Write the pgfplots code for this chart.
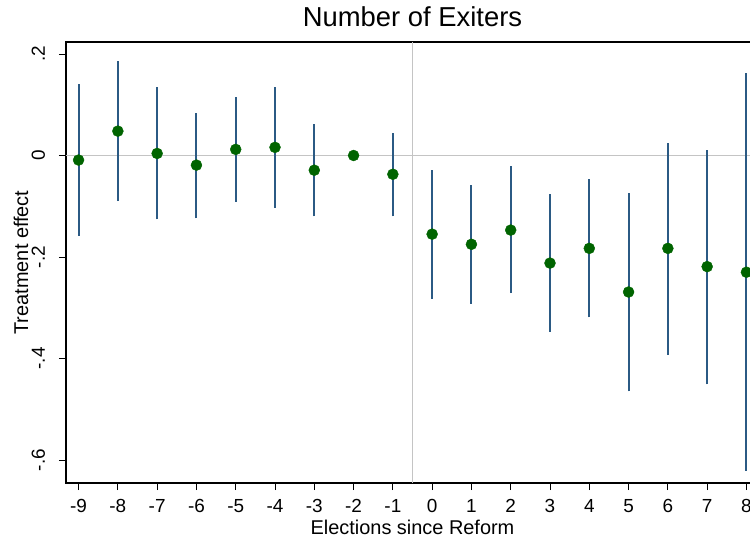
\documentclass[border=0pt]{standalone}
\usepackage{pgfplots}
\usepackage{pgfplotstable}
\pgfplotsset{compat=1.18}
\usepackage{fontspec}
\setmainfont{Liberation Sans}
\definecolor{cicol}{HTML}{2B5A84}
\definecolor{ptcol}{HTML}{006400}
\definecolor{refl}{HTML}{C4C4C4}

\pgfplotstableread{
x b
-9 -0.009
-8 0.048
-7 0.004
-6 -0.019
-5 0.012
-4 0.016
-3 -0.029
-2 0.000
-1 -0.037
0 -0.155
1 -0.175
2 -0.147
3 -0.212
4 -0.183
5 -0.269
6 -0.183
7 -0.219
8 -0.230
}\pts

\pgfplotstableread{
x lo hi
-9 -0.158 0.141
-8 -0.090 0.187
-7 -0.126 0.134
-6 -0.124 0.084
-5 -0.091 0.116
-4 -0.103 0.134
-3 -0.120 0.062
-1 -0.120 0.045
0 -0.282 -0.028
1 -0.292 -0.059
2 -0.271 -0.021
3 -0.347 -0.076
4 -0.319 -0.046
5 -0.465 -0.074
6 -0.393 0.025
7 -0.451 0.011
8 -0.621 0.162
}\cis

\begin{document}
\begin{tikzpicture}
\begin{axis}[
  scale only axis,
  width=693bp, height=441bp,
  xmin=-9.32, xmax=8.32, ymin=-0.6453, ymax=0.2236,
  xtick={-9,-8,-7,-6,-5,-4,-3,-2,-1,0,1,2,3,4,5,6,7,8},
  xticklabels={-9,-8,-7,-6,-5,-4,-3,-2,-1,0,1,2,3,4,5,6,7,8},
  ytick={-0.6,-0.4,-0.2,0,0.2},
  yticklabels={-.6,-.4,-.2,0,.2},
  xtick pos=bottom, ytick pos=left,
  tick align=outside,
  major tick length=7bp,
  tick style={black, line width=0.9bp},
  axis line style={black, line width=1.1bp},
  tick label style={font=\fontsize{19}{21}\selectfont},
  xticklabel style={anchor=base, yshift=-22bp},
  yticklabel style={xshift=-14bp, rotate=90, anchor=base},
  title={Number of Exiters},
  title style={at={(axis description cs:0.5,1.02268)}, anchor=base, font=\fontsize{27.5}{30}\selectfont},
  xlabel={Elections since Reform},
  xlabel style={at={(axis description cs:0.5,-0.11565)}, anchor=base, font=\fontsize{20}{24}\selectfont},
  ylabel={Treatment effect},
  ylabel style={at={(axis description cs:-0.05483,0.5)}, anchor=base, font=\fontsize{20}{24}\selectfont},
  clip=false,
]
\coordinate (BL) at (rel axis cs:0,0);
\coordinate (TL) at (rel axis cs:0,1);
\addplot[refl, line width=1.5bp, forget plot] coordinates {(-9.32,0) (8.32,0)};
\addplot[refl, line width=1.5bp, forget plot] coordinates {(-0.5,-0.6453) (-0.5,0.2236)};
\addplot[draw=none, mark=none, forget plot,
  error bars/.cd, y dir=plus, y explicit, error mark=none,
  error bar style={draw=cicol, line width=2bp}]
  table[x=x, y=lo, y error expr=\thisrow{hi}-\thisrow{lo}] {\cis};
\addplot[only marks, mark=*, mark size=5.5bp, mark options={draw=ptcol, fill=ptcol}]
  table[x=x, y=b] {\pts};
\end{axis}
\pgfresetboundingbox
\path ([shift={(-66bp,-54bp)}]BL) rectangle ([shift={(684bp,42bp)}]TL);
\end{tikzpicture}
\end{document}
